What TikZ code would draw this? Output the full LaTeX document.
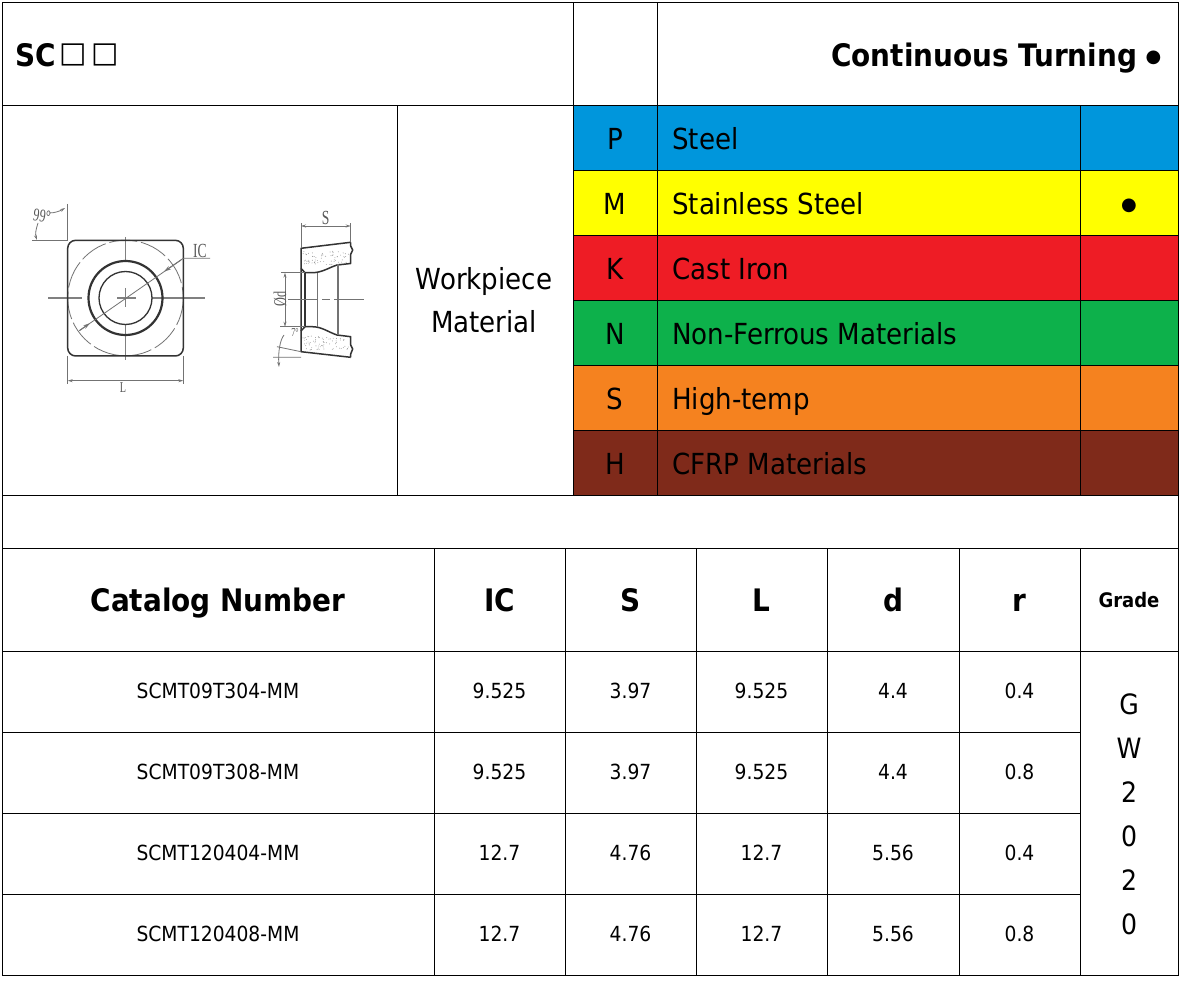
\documentclass[tikz,border=0pt]{standalone}
\usepackage{fontspec}
\setmainfont{DejaVu Sans Condensed}
\newfontfamily\symf{DejaVu Sans}
\newfontfamily\drawf{Liberation Serif}
\usetikzlibrary{arrows.meta}
\definecolor{cP}{HTML}{0096DC}
\definecolor{cM}{HTML}{FFFF00}
\definecolor{cK}{HTML}{EE1C25}
\definecolor{cN}{HTML}{0DB14B}
\definecolor{cS}{HTML}{F5821F}
\definecolor{cH}{HTML}{7F2A1A}
\newcommand{\narrow}[1]{\scalebox{0.68}[1]{#1}}
\tikzset{
  cell/.style={draw=black,line width=0.9pt,inner sep=0pt,text=black,align=center},
  heada/.style={font=\fontsize{31}{31}\selectfont\bfseries,text height=24.6pt,text depth=0pt},
  gradehead/.style={font=\fontsize{20}{20}\selectfont\bfseries,text height=16pt,text depth=0pt},
  body/.style={font=\fontsize{20.8}{20.8}\selectfont,text height=14.4pt,text depth=0pt},
  mat/.style={font=\fontsize{29}{29}\selectfont,text height=23.2pt,text depth=0pt},
  matlines/.style={font=\fontsize{29}{29}\selectfont},
  dotmark/.style={font=\symf\fontsize{18}{18}\selectfont,text height=10pt,text depth=0pt},
  thin dim/.style={draw=black!55,line width=0.8pt},
  cen/.style={draw=black!50,line width=1.2pt},
  edge/.style={draw=black!80,line width=1.5pt,line join=round},
  lab/.style={text=black!65,inner sep=0pt,font=\drawf\fontsize{20}{20}\selectfont},
  dimarrow/.style={thin dim,{Stealth[length=5pt,width=3pt]}-{Stealth[length=5pt,width=3pt]}}
}
% #1 name, #2 x0, #3 y0, #4 x1, #5 y1, #6 options, #7 text
\newcommand{\cellbox}[7]{%
  \pgfmathsetmacro{\cw}{#4-#2}\pgfmathsetmacro{\ch}{#5-#3}%
  \pgfmathsetmacro{\cx}{(#2+#4)/2}\pgfmathsetmacro{\cy}{(#3+#5)/2}%
  \node[cell,minimum width=\cw pt,minimum height=\ch pt,#6] (#1) at (\cx,\cy) {#7};}
\begin{document}
\begin{tikzpicture}[x=1pt,y=-1pt]
\useasboundingbox (0,0) rectangle (1183,981);
\fill[white] (0,0) rectangle (1183,981);
% top band
\cellbox{title}{2}{2}{573}{105}{}{}
\node[heada,anchor=west,inner sep=0pt] (titletext) at (15,54) {SC\hspace{4pt}\raisebox{4pt}{\symf\fontsize{29}{29}\selectfont\mdseries □\hspace{4pt}□}};
\cellbox{gap}{573}{2}{657}{105}{}{}
\cellbox{turn}{657}{2}{1178}{105}{}{}
\node[heada,anchor=west,inner sep=0pt] (turntext) at (831,54) {Continuous Turning};
\node[dotmark,inner sep=0pt] (turndot) at (1153.5,58) {●};
% drawing cell
\cellbox{pic}{2}{105}{397}{495}{}{}
\cellbox{wm}{397}{105}{573}{495}{}{}
\node[matlines,align=center,inner sep=0pt] (wmtext) at (484,300) {Workpiece\\[14.5pt]Material};
% material rows
\foreach \nm/\lt/\txt/\col [count=\i from 0] in {
 P/P/Steel/cP,M/M/Stainless Steel/cM,K/K/Cast Iron/cK,N/N/Non-Ferrous Materials/cN,S/S/High-temp/cS,H/H/CFRP Materials/cH}{
  \pgfmathtruncatemacro{\ya}{105+65*\i}
  \pgfmathtruncatemacro{\yb}{170+65*\i}
  \cellbox{let\nm}{573}{\ya}{657}{\yb}{fill=\col,mat}{\lt}
  \cellbox{nam\nm}{657}{\ya}{1080}{\yb}{fill=\col}{}
  \node[mat,anchor=west,inner sep=0pt] (txt\nm) at (672,\ya+32.5) {\txt};
  \cellbox{dot\nm}{1080}{\ya}{1178}{\yb}{fill=\col}{}
}
\node[dotmark,inner sep=0pt] (mdot) at (1129,206) {●};
% spacer
\cellbox{spacer}{2}{495}{1178}{548}{}{}
% table header
\cellbox{hcat}{2}{548}{434}{651}{heada}{Catalog Number}
\cellbox{hic}{434}{548}{565}{651}{heada}{IC}
\cellbox{hs}{565}{548}{696}{651}{heada}{S}
\cellbox{hl}{696}{548}{827}{651}{heada}{L}
\cellbox{hd}{827}{548}{959}{651}{heada}{d}
\cellbox{hr}{959}{548}{1080}{651}{heada}{r}
\cellbox{hg}{1080}{548}{1178}{651}{gradehead}{Grade}
% table rows
\foreach \a/\b/\c/\d/\e/\f/\ya/\yb [count=\i] in {
 SCMT09T304-MM/9.525/3.97/9.525/4.4/0.4/651/732,
 SCMT09T308-MM/9.525/3.97/9.525/4.4/0.8/732/813,
 SCMT120404-MM/12.7/4.76/12.7/5.56/0.4/813/894,
 SCMT120408-MM/12.7/4.76/12.7/5.56/0.8/894/975}{
  \cellbox{r\i cat}{2}{\ya}{434}{\yb}{body}{\a}
  \cellbox{r\i ic}{434}{\ya}{565}{\yb}{body}{\b}
  \cellbox{r\i s}{565}{\ya}{696}{\yb}{body}{\c}
  \cellbox{r\i l}{696}{\ya}{827}{\yb}{body}{\d}
  \cellbox{r\i d}{827}{\ya}{959}{\yb}{body}{\e}
  \cellbox{r\i r}{959}{\ya}{1080}{\yb}{body}{\f}
}
\cellbox{grade}{1080}{651}{1178}{975}{}{}
\node[align=center,inner sep=0pt,font=\fontsize{28}{44}\selectfont] (gradetext) at (1129,814) {G\\W\\2\\0\\2\\0};
% ---- insert, top view
\draw[cen] (48,298) -- (82,298) (117,298) -- (136,298) (152,298) -- (205,298);
\draw[cen] (125.5,237) -- (125.5,260) (125.5,288) -- (125.5,307) (125.5,325) -- (125.5,360);
\draw[thin dim,dash pattern=on 28pt off 4pt] (125.5,298) circle (57.8);
\draw[edge] (67.7,248.3) arc (180:270:8) -- (175.3,240.3) arc (270:360:8) -- (183.3,348) arc (0:90:8) -- (75.7,356) arc (90:180:8) -- cycle;
\draw[black!80,line width=2.2pt] (125.5,298) circle (37);
\draw[black!80,line width=1.3pt] (125.5,298) circle (26.5);
\draw[thin dim] (79.3,330.7) -- (183.3,258.3) -- (210,258.3);
\draw[thin dim,line width=1pt,-{Stealth[length=7pt,width=4pt]}] (80,330.2) -- (90,323.2);
\draw[thin dim,line width=1pt,-{Stealth[length=7pt,width=4pt]}] (181,260) -- (164,271.6);
\node[lab] (ictext) at (200,251) {\narrow{IC}};
\draw[thin dim] (67.7,204) -- (67.7,240) (67.7,356) -- (67.7,384) (183.3,356) -- (183.3,384);
\draw[dimarrow] (67.7,380.7) -- (183.3,380.7);
\node[lab,font=\drawf\fontsize{15}{15}\selectfont] (ltext) at (123,388) {\narrow{L}};
\draw[thin dim] (32,240) -- (67.7,240);
\draw[thin dim,-{Stealth[length=5pt,width=3pt]}] (49,213) .. controls (55,213) and (60,211) .. (65,208);
\draw[thin dim,-{Stealth[length=5pt,width=3pt]}] (38,223) .. controls (36,229) and (35,234) .. (37,240);
\node[lab,rotate=-8,font=\drawf\fontsize{18}{18}\selectfont] (angtext) at (42,216) {\narrow{99°}};
% ---- insert, section view
\pgfmathsetseed{7}
\foreach \k in {1,...,70}{
  \pgfmathsetmacro{\px}{303+rnd*46}
  \pgfmathsetmacro{\py}{251+rnd*14}
  \fill[black!45] (\px,\py) circle (0.45);
  \pgfmathsetmacro{\qx}{303+rnd*46}
  \pgfmathsetmacro{\qy}{336+rnd*14}
  \fill[black!45] (\qx,\qy) circle (0.45);
}
\draw[edge] (350.7,242.3) -- (301,248.3) -- (301,351.7) -- (350.7,357.3);
\draw[edge] (350.7,242.3) -- (350.7,246) -- (352.7,250) -- (350.7,254.3) -- (350.7,263.5) -- (337,265) .. controls (328,268) and (322,272.7) .. (312,272.7) -- (305,272.7) -- (301,268.3);
\draw[edge] (350.7,357.3) -- (350.7,354) -- (352.7,349) -- (350.7,345) -- (350.7,336.7) -- (337,335) .. controls (328,332) and (322,326.7) .. (312,326.7) -- (305,326.7) -- (301,331);
\draw[edge] (305,272.7) -- (305,326.7);
\draw[thin dim,line width=1.2pt] (338,264.5) -- (338,335.5);
\draw[thin dim] (317.3,272.7) -- (317.3,326.7);
\draw[thin dim,dash pattern=on 30pt off 4pt on 8pt off 4pt] (288,299.3) -- (365,299.3);
\draw[thin dim] (301,248.3) -- (301,223) (350.7,242.3) -- (350.7,223);
\draw[dimarrow] (301,226) -- (350.7,226);
\node[lab] (stext) at (325.7,218) {\narrow{S}};
\draw[thin dim] (281,272.7) -- (305,272.7) (280,326.7) -- (305,326.7);
\draw[dimarrow] (285,272.7) -- (285,326.7);
\node[lab,rotate=90,font=\drawf\fontsize{18}{18}\selectfont] (dtext) at (280,299) {\narrow{Ød}};
\draw[thin dim] (277,346.7) -- (301,351.7) (273,357.3) -- (301,357.3);
\draw[thin dim,-{Stealth[length=5pt,width=3pt]}] (284,335) .. controls (280,340) and (278,352) .. (279,367);
\node[lab,font=\drawf\fontsize{12}{12}\selectfont] (sevtext) at (295,332.5) {\narrow{7°}};
\end{tikzpicture}
\end{document}
